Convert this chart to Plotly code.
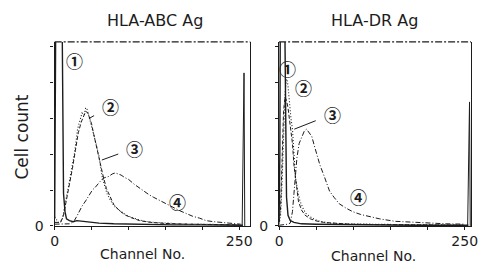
import plotly.graph_objects as go

# ---------------- data ----------------
# Left panel: HLA-ABC Ag
abc1_ch = [0, 1, 2, 4, 6, 8, 10, 11, 12, 14, 16, 20, 25, 30, 40, 50, 60, 80, 100, 130, 160, 200, 240, 255]
abc1_val = [0.2, 3, 8, 8, 8, 8, 6, 2.5, 0.9, 0.4, 0.2, 0.15, 0.12, 0.15, 0.12, 0.1, 0.08, 0.06, 0.05, 0.04, 0.03, 0.03, 0.02, 0.02]

abc2_ch = [0, 5, 10, 13, 17, 20, 24, 27, 31, 34, 37, 40, 42, 44, 46, 48, 50, 53, 56, 60, 64, 68, 71, 76, 81, 90, 99, 110, 121, 135, 150, 170, 200, 230, 250]
abc2_val = [0.25, 0.1, 0.15, 0.45, 0.9, 1.25, 1.7, 2.05, 2.7, 2.95, 3.15, 3.1, 3.3, 3.25, 3.1, 2.95, 2.8, 2.6, 2.3, 1.95, 1.4, 1.1, 0.9, 0.7, 0.55, 0.4, 0.28, 0.2, 0.13, 0.1, 0.08, 0.06, 0.05, 0.04, 0.03]

abc3_ch = [0, 8, 12, 16, 20, 24, 28, 32, 36, 39, 42, 45, 47, 50, 53, 56, 59, 62, 65, 70, 75, 80, 88, 96, 105, 115, 130, 150, 180, 220, 250]
abc3_val = [0.1, 0.1, 0.3, 0.7, 1.1, 1.6, 2.1, 2.6, 2.9, 3.05, 3.2, 3.15, 3.05, 2.85, 2.55, 2.25, 2.0, 1.75, 1.45, 1.05, 0.8, 0.6, 0.42, 0.3, 0.22, 0.15, 0.1, 0.07, 0.05, 0.04, 0.03]

abc4_ch = [0, 10, 20, 24, 27, 32, 37, 42, 47, 51, 55, 60, 64, 68, 73, 78, 82, 86, 90, 95, 100, 108, 115, 121, 128, 134, 143, 152, 161, 170, 178, 187, 196, 205, 215, 225, 235, 245, 252]
abc4_val = [0.05, 0.05, 0.06, 0.1, 0.16, 0.35, 0.55, 0.7, 0.88, 1.0, 1.08, 1.2, 1.3, 1.35, 1.38, 1.45, 1.48, 1.45, 1.42, 1.35, 1.3, 1.16, 1.05, 0.97, 0.87, 0.8, 0.7, 0.62, 0.52, 0.42, 0.35, 0.27, 0.22, 0.15, 0.12, 0.1, 0.08, 0.06, 0.05]

# Right panel: HLA-DR Ag
dr1_ch = [0, 1, 2, 3, 5, 7, 8, 9, 10, 12, 15, 20, 30, 50, 80, 120, 180, 240, 255]
dr1_val = [0.1, 2, 8, 8, 8, 8, 5, 2, 0.8, 0.3, 0.15, 0.1, 0.06, 0.05, 0.04, 0.03, 0.02, 0.02, 0.02]

dr2_ch = [0, 2, 4, 6, 8, 10, 11, 12, 14, 16, 18, 20, 22, 25, 28, 32, 36, 41, 48, 55, 68, 85, 110, 150, 200, 250]
dr2_val = [0.05, 0.3, 1.2, 2.6, 3.7, 4.1, 4.05, 3.9, 3.4, 3.0, 2.7, 2.0, 1.35, 1.0, 0.7, 0.5, 0.35, 0.27, 0.18, 0.13, 0.08, 0.06, 0.05, 0.04, 0.03, 0.02]

dr3_ch = [0, 2, 4, 6, 8, 10, 12, 14, 16, 18, 20, 23, 26, 30, 35, 42, 50, 60, 75, 95, 130, 180, 250]
dr3_val = [0.1, 0.5, 1.8, 3.2, 3.6, 3.5, 3.3, 3.0, 2.75, 2.3, 1.7, 1.1, 0.7, 0.45, 0.3, 0.2, 0.14, 0.1, 0.07, 0.05, 0.04, 0.03, 0.02]

dr4_ch = [0, 8, 12, 15, 18, 20, 22, 24, 27, 31, 34, 37, 40, 44, 48, 51, 55, 60, 64, 68, 74, 81, 90, 99, 110, 120, 135, 156, 180, 200, 225, 250]
dr4_val = [0.02, 0.03, 0.05, 0.08, 0.4, 0.9, 1.4, 1.9, 2.3, 2.5, 2.65, 2.7, 2.62, 2.5, 2.2, 1.97, 1.7, 1.43, 1.2, 0.97, 0.8, 0.62, 0.5, 0.4, 0.32, 0.27, 0.2, 0.13, 0.1, 0.08, 0.06, 0.05]

# Overflow channel spike at the right end of each histogram
spike_ch = [254, 255.5, 256.5, 257.5]
abc_spike = [0.02, 4.27, 4.27, 0.0]
dr_spike = [0.02, 3.46, 3.46, 0.0]

x_tickvals = [0, 50, 100, 150, 200, 250]
x_ticktext = ["0", "", "", "", "", "250"]
y_tickvals = [0, 1, 2, 3, 4, 5]
y_ticktext = ["0", "", "", "", "", ""]

titles = ["HLA-ABC Ag", "HLA-DR Ag"]

# ---------------- figure ----------------
INK = "#1c1c1c"
OFF = 8                              # default page margin of the html body
W, H = 486 - 2 * OFF, 272 - 2 * OFF  # page (figure + margins) == window


def px_x(sx):
    return min(1.0, max(0.0, (sx - OFF) / W))


def px_y(sy):
    return 1 - (sy - OFF) / H


fig = go.Figure()

styles = ["solid", "1px,2px", "4px,2px", "5px,2px,1px,2px"]
widths = [1.4, 1.1, 1.0, 1.0]

left = [(abc1_ch, abc1_val), (abc2_ch, abc2_val), (abc3_ch, abc3_val), (abc4_ch, abc4_val)]
right = [(dr1_ch, dr1_val), (dr2_ch, dr2_val), (dr3_ch, dr3_val), (dr4_ch, dr4_val)]

for (cx, cy), d, w in zip(left, styles, widths):
    fig.add_trace(go.Scatter(x=cx, y=cy, mode="lines", xaxis="x", yaxis="y",
                             line=dict(color=INK, width=w, dash=d), showlegend=False))
for (cx, cy), d, w in zip(right, styles, widths):
    fig.add_trace(go.Scatter(x=cx, y=cy, mode="lines", xaxis="x2", yaxis="y2",
                             line=dict(color=INK, width=w, dash=d), showlegend=False))
fig.add_trace(go.Scatter(x=spike_ch, y=abc_spike, mode="lines", xaxis="x", yaxis="y",
                         line=dict(color=INK, width=1), showlegend=False))
fig.add_trace(go.Scatter(x=spike_ch, y=dr_spike, mode="lines", xaxis="x2", yaxis="y2",
                         line=dict(color=INK, width=1), showlegend=False))

ydom = [px_y(233), px_y(43)]
tickfont = dict(family="DejaVu Sans", size=14, color=INK)
common_x = dict(showgrid=False, zeroline=False, showline=True, linecolor=INK, linewidth=1.2,
                ticks="outside", ticklen=3, tickwidth=1, tickcolor=INK,
                tickvals=x_tickvals, ticktext=x_ticktext, tickfont=tickfont, tickangle=0,
                ticklabelstandoff=-1, ticklabeloverflow="allow")
common_y = dict(showgrid=False, zeroline=False, showline=True, linecolor=INK, linewidth=1.4,
                mirror=True, ticks="outside", ticklen=3, tickwidth=1, tickcolor=INK,
                tickvals=y_tickvals, ticktext=y_ticktext, tickfont=tickfont,
                range=[0, 190 / 37], domain=ydom)

fig.update_layout(
    width=W, height=H, margin=dict(l=0, r=0, t=0, b=0),
    paper_bgcolor="white", plot_bgcolor="white",
    xaxis=dict(common_x, domain=[px_x(51.7), px_x(252)], range=[0, 265], anchor="y"),
    yaxis=dict(common_y, anchor="x", ticklabelstandoff=4),
    xaxis2=dict(common_x, domain=[px_x(281.5), px_x(478)], range=[0, 258.5], anchor="y2"),
    yaxis2=dict(common_y, anchor="x2", ticklabelstandoff=4),
)

# dashed top frame lines
for xr, yr in [("x domain", "y domain"), ("x2 domain", "y2 domain")]:
    fig.add_shape(type="line", xref=xr, yref=yr, x0=0, x1=1, y0=1, y1=1,
                  line=dict(color=INK, width=1.1, dash="7px,2px,2px,2px"))


# titles and axis labels
def label(text, sx, sy, size, angle=0):
    fig.add_annotation(text=text, x=px_x(sx), y=px_y(sy), xref="paper", yref="paper",
                       xanchor="center", yanchor="middle", showarrow=False, textangle=angle,
                       font=dict(family="DejaVu Sans", size=size, color=INK))


label(titles[0], 154, 21, 16)
label(titles[1], 379, 21, 16)
label("Cell count", 18, 141, 17, angle=-90)
label("Channel No.", 142, 262, 14)
label("Channel No.", 378, 264, 14)

# circled curve labels
cfont = dict(family="Noto Sans CJK JP", size=17, color=INK, weight="bold")
arrow = dict(showarrow=True, arrowhead=0, arrowwidth=1, arrowcolor=INK, standoff=0, startstandoff=7)
# left panel
fig.add_annotation(text="①", x=12.3, y=4.2, xref="x", yref="y", ax=11, ay=-15, font=cfont, **arrow)
fig.add_annotation(text="②", x=46.7, y=3.0, xref="x", yref="y", ax=21, ay=-12, font=cfont, **arrow)
fig.add_annotation(text="③", x=63.9, y=1.84, xref="x", yref="y", ax=33, ay=-12, font=cfont, **arrow)
fig.add_annotation(text="④", x=165.8, y=0.68, xref="x", yref="y", showarrow=False, font=cfont)
# right panel
fig.add_annotation(text="①", x=11.2, y=4.4, xref="x2", yref="y2", showarrow=False, font=cfont)
fig.add_annotation(text="②", x=33.5, y=3.86, xref="x2", yref="y2", showarrow=False, font=cfont)
fig.add_annotation(text="③", x=20.4, y=2.7, xref="x2", yref="y2", ax=38, ay=-15, font=cfont, **arrow)
fig.add_annotation(text="④", x=107, y=0.81, xref="x2", yref="y2", showarrow=False, font=cfont)

fig.write_html("out.html")
